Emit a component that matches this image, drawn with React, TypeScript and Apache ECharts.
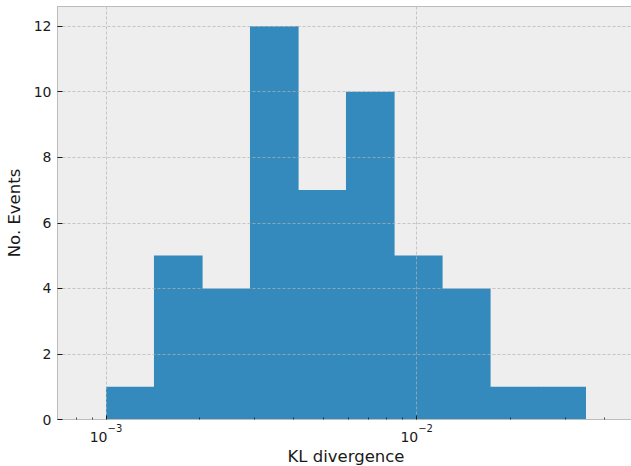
import React, { useEffect, useRef } from "react";
import * as echarts from "echarts";

// Histogram of KL divergence (log-spaced bins)
const binEdges = [0.001, 0.001427, 0.002037, 0.002907, 0.004149, 0.005921, 0.008451, 0.012061, 0.017213, 0.024567, 0.035062];
const counts = [1, 5, 4, 12, 7, 10, 5, 4, 1, 1];
const xMajorTicks = [0.001, 0.01];
const xMinorTicks = [0.0008, 0.0009, 0.002, 0.003, 0.004, 0.005, 0.006, 0.007, 0.008, 0.009, 0.02, 0.03, 0.04];
const yTicks = [0, 2, 4, 6, 8, 10, 12];

const FONT = "DejaVu Sans";
const X_MIN = 0.0006982;
const X_MAX = 0.05023;
const FRAME = { show: true, lineStyle: { color: "#bcbcbc", width: 1 } };

export default function App() {
  const ref = useRef<HTMLDivElement>(null);
  useEffect(() => {
    if (!ref.current) return;
    const chart = echarts.init(ref.current, null, { renderer: "svg" });
    const data = counts.map((c, i) => [binEdges[i], binEdges[i + 1], c]);
    const gridLine = { show: true, lineStyle: { color: "#b2b2b2", width: 0.7, type: [3, 2] as any } };
    chart.setOption({
      animation: false,
      backgroundColor: "#ffffff",
      grid: {
        show: true,
        left: 57.5,
        top: 6.5,
        width: 577,
        height: 413,
        outerBoundsMode: "none",
        containLabel: false,
        backgroundColor: "#eeeeee",
        borderWidth: 0,
      },
      xAxis: [
        {
          type: "log",
          logBase: 10,
          min: X_MIN,
          max: X_MAX,
          position: "bottom",
          z: 5,
          name: "KL divergence",
          nameLocation: "middle",
          nameGap: 28,
          nameTextStyle: { fontFamily: FONT, fontSize: 16.5, color: "#1a1a1a" },
          axisLine: FRAME,
          axisTick: { show: true, inside: true, length: 4, customValues: xMajorTicks, lineStyle: { color: "#1a1a1a", width: 1 } },
          axisLabel: {
            show: true,
            customValues: xMajorTicks,
            margin: 4,
            formatter: (v: number) => `{b|10}{s|−${Math.round(-Math.log10(v))}}`,
            rich: {
              b: { fontFamily: FONT, fontSize: 14, lineHeight: 20, verticalAlign: "bottom", color: "#1a1a1a" },
              s: { fontFamily: FONT, fontSize: 10, lineHeight: 10, verticalAlign: "top", color: "#1a1a1a" },
            },
          },
          splitLine: gridLine,
          minorTick: { show: false },
        },
        {
          type: "log",
          logBase: 10,
          min: X_MIN,
          max: X_MAX,
          position: "bottom",
          z: 5,
          axisLine: { show: false },
          axisTick: { show: true, inside: true, length: 2, customValues: xMinorTicks, lineStyle: { color: "#1a1a1a", width: 0.8 } },
          axisLabel: { show: false },
          splitLine: { show: false },
        },
        {
          type: "log",
          logBase: 10,
          min: X_MIN,
          max: X_MAX,
          position: "top",
          z: 5,
          axisLine: FRAME,
          axisTick: { show: false },
          axisLabel: { show: false },
          splitLine: { show: false },
        },
      ],
      yAxis: {
        type: "value",
        min: 0,
        max: 12.6,
        interval: 2,
        z: 5,
        name: "No. Events",
        nameLocation: "middle",
        nameGap: 30,
        nameTextStyle: { fontFamily: FONT, fontSize: 16.5, color: "#1a1a1a" },
        axisLine: FRAME,
        axisTick: { show: true, inside: true, length: 5, customValues: yTicks, lineStyle: { color: "#1a1a1a", width: 1 } },
        axisLabel: { show: true, customValues: yTicks, margin: 6, fontFamily: FONT, fontSize: 14, color: "#1a1a1a" },
        splitLine: gridLine,
      },
      series: [
        {
          type: "custom",
          xAxisIndex: 0,
          yAxisIndex: 0,
          z: 2,
          encode: { x: [0, 1], y: 2 },
          data,
          renderItem: (params: any, api: any) => {
            const p0 = api.coord([api.value(0), 0]);
            const p1 = api.coord([api.value(1), api.value(2)]);
            const last = params.dataIndex === counts.length - 1;
            return {
              type: "rect",
              shape: { x: p0[0], y: p1[1], width: p1[0] - p0[0] + (last ? 0 : 0.6), height: p0[1] - p1[1] },
              style: { fill: "#348ABD" },
            };
          },
        },
      ],
    });
    return () => chart.dispose();
  }, []);
  return (
    <div style={{ position: "absolute", left: 0, top: 0, width: 631, height: 466, overflow: "hidden" }}>
      <div ref={ref} style={{ width: 645, height: 466 }} />
    </div>
  );
}
